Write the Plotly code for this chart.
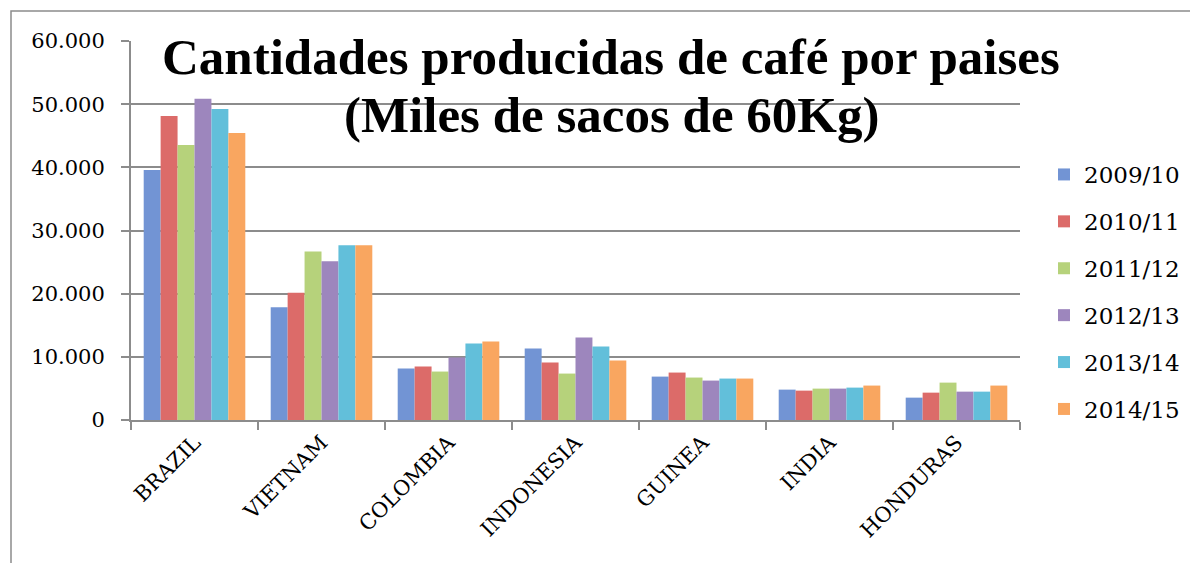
import plotly.graph_objects as go

# paises y campañas
paises = ['BRAZIL', 'VIETNAM', 'COLOMBIA', 'INDONESIA', 'GUINEA', 'INDIA', 'HONDURAS']
campanas = ['2009/10', '2010/11', '2011/12', '2012/13', '2013/14', '2014/15']

# miles de sacos de 60Kg
c_2009 = [39570, 17830, 8140, 11320, 6870, 4810, 3540]
c_2010 = [48140, 20160, 8460, 9100, 7510, 4650, 4330]
c_2011 = [43540, 26680, 7670, 7350, 6720, 4970, 5920]
c_2012 = [50840, 25130, 9890, 13060, 6240, 4970, 4490]
c_2013 = [49250, 27670, 12110, 11630, 6560, 5130, 4490]
c_2014 = [45440, 27670, 12430, 9410, 6560, 5450, 5450]

titulo = ['Cantidades producidas de café por paises', '(Miles de sacos de 60Kg)']

series = [c_2009, c_2010, c_2011, c_2012, c_2013, c_2014]
colores = ['#7294d4', '#dc6b69', '#b6d27b', '#9d86bd', '#62bfda', '#f9a660']

# la pagina tiene 8px de margen en el body
W, H = 1190, 555
ml, mr, mt, mb = 123, 178, 33, 143
pw = W - ml - mr
ph = H - mt - mb

fig = go.Figure()
for i in range(len(campanas)):
    fig.add_trace(go.Bar(
        x=paises, y=series[i], name=campanas[i],
        marker=dict(color=colores[i], line=dict(width=0)),
        legendgroup=campanas[i]
    ))

gris = '#8c8c8c'
fuente = 'DejaVu Serif'

fig.update_layout(
    width=W, height=H,
    margin=dict(l=ml, r=mr, t=mt, b=mb),
    paper_bgcolor='white', plot_bgcolor='white',
    separators=',.',
    barmode='group', bargap=0.2, bargroupgap=0,
    font=dict(family=fuente, color='black', size=21),
    legend=dict(
        x=(1036 - ml) / pw, xanchor='left',
        y=(H - mb - 284) / ph, yanchor='middle',
        font=dict(family=fuente, size=23),
        tracegroupgap=14, traceorder='grouped'
    ),
    xaxis=dict(
        showline=True, linecolor=gris, linewidth=2,
        ticks='outside', tickson='boundaries', ticklen=8, tickcolor=gris, tickwidth=2,
        tickangle=-45, tickfont=dict(family=fuente, size=21),
        showgrid=False
    ),
    yaxis=dict(
        range=[0, 60000], dtick=10000, tickformat=',d',
        showline=True, linecolor=gris, linewidth=2,
        ticks='outside', ticklen=8, tickcolor=gris, tickwidth=2,
        ticklabelstandoff=12,
        showgrid=True, gridcolor=gris, gridwidth=2,
        zeroline=False,
        tickfont=dict(family=fuente, size=21)
    ),
)

# titulo en dos lineas, cada una como anotacion
for linea, yc in zip(titulo, [49, 107]):
    fig.add_annotation(
        text='<b>' + linea + '</b>',
        xref='paper', yref='paper', x=(603 - ml) / pw, y=(H - mb - yc) / ph,
        xanchor='center', yanchor='middle', showarrow=False,
        font=dict(family='Liberation Serif', size=51, color='black')
    )

# marco exterior del grafico (solo se ven el borde izquierdo y el superior)
fig.add_shape(
    type='rect', xref='paper', yref='paper',
    x0=(3 - ml) / pw, x1=1.5,
    y0=-1, y1=(H - mb - 3) / ph,
    line=dict(color=gris, width=1.5), fillcolor='rgba(0,0,0,0)', layer='below'
)

fig.write_html('out.html')
